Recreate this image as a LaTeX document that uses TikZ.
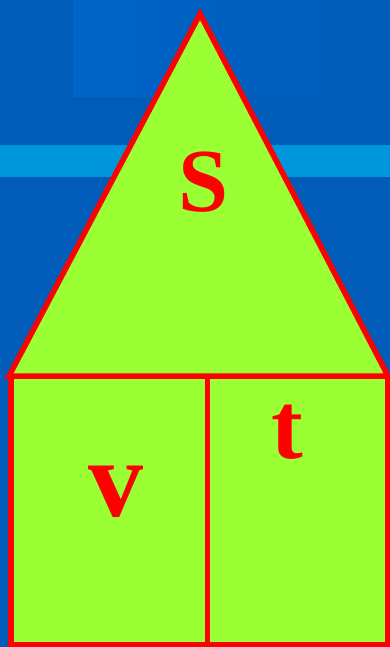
\documentclass[tikz,border=0pt]{standalone}
\usepackage{fontspec}
\setmainfont{Liberation Serif}
\definecolor{bgblue}{RGB}{0,92,184}
\definecolor{lightblue}{RGB}{0,100,200}
\definecolor{stripe}{RGB}{0,150,220}
\definecolor{lime}{RGB}{154,255,51}
\definecolor{redline}{RGB}{255,0,0}
\tikzset{
  limeshape/.style={fill=lime, draw=redline, line width=5.5pt, line join=miter},
  letter/.style={text=redline, inner sep=0pt}
}
\begin{document}
\begin{tikzpicture}[x=1pt,y=-1pt]
\useasboundingbox (0,0) rectangle (390,647);
\fill[bgblue] (0,0) rectangle (390,647);
\shade[left color=lightblue, right color=bgblue] (73,0) rectangle (390,97);
\fill[stripe] (0,145) rectangle (390,177);
\coordinate (apex) at (200,14);
\coordinate (bl) at (9,376);
\coordinate (br) at (388,376);
\coordinate (rtl) at (11,376);
\coordinate (botr) at (388,645);
\coordinate (midtop) at (207.5,376);
\coordinate (midbot) at (207.5,645);
\draw[limeshape] (rtl) rectangle (botr);
\draw[limeshape] (apex) -- (bl) -- (br) -- cycle;
\draw[redline, line width=4.5pt] (midtop) -- (midbot);
\node[letter, font=\bfseries\fontsize{90}{90}\selectfont] (s) at (204,182) {S};
\node[letter, font=\bfseries\fontsize{95}{95}\selectfont] (t) at (287,432) {t};
\node[letter, font=\bfseries\fontsize{110}{110}\selectfont] (v) at (116,492) {v};
\end{tikzpicture}
\end{document}
